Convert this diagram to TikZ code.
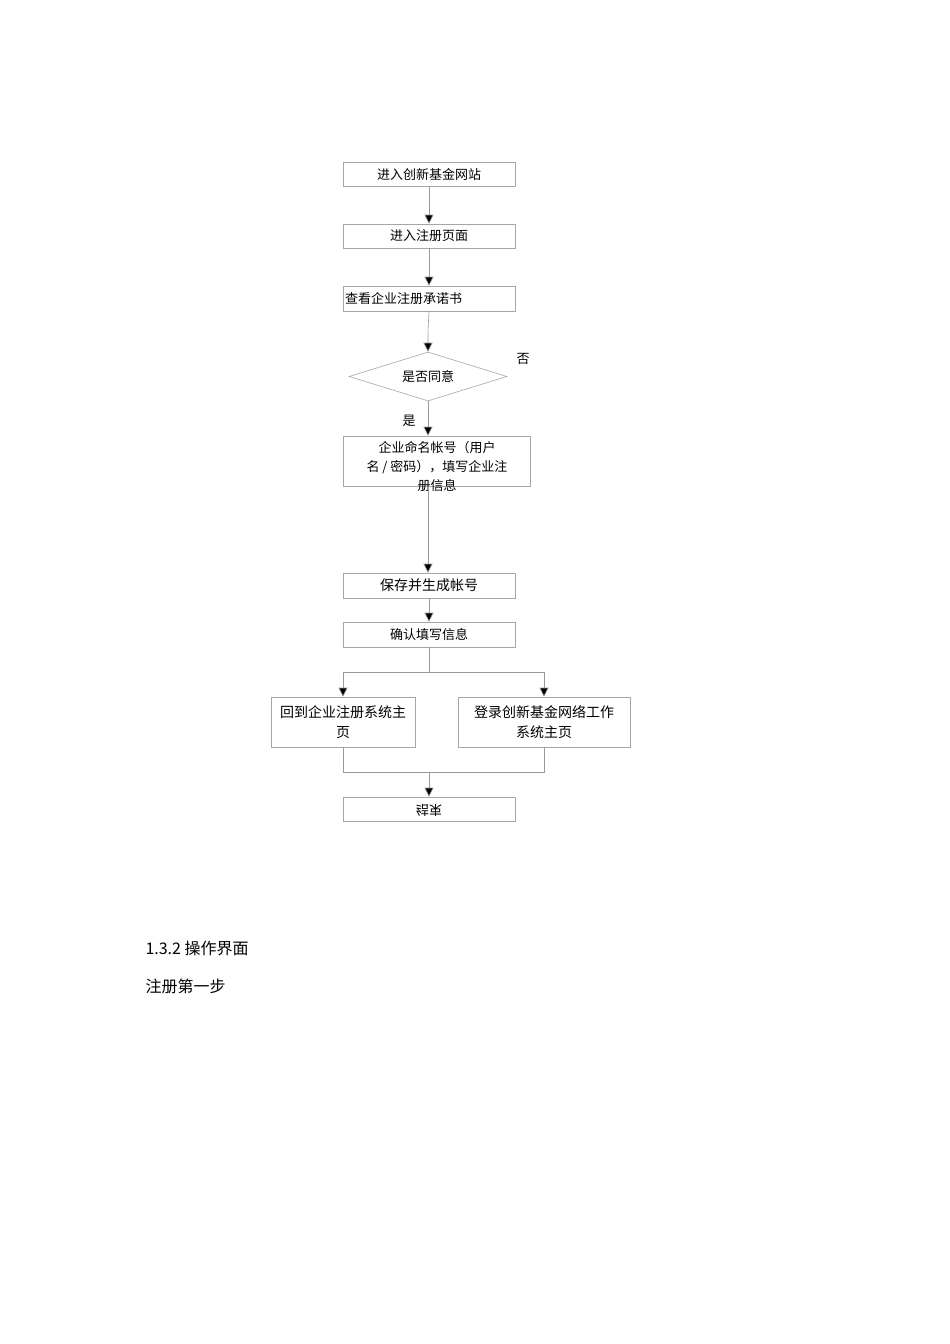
\documentclass[tikz,border=0pt]{standalone}
\usepackage{fontspec}
\setmainfont{Noto Sans CJK SC}
\usetikzlibrary{shapes.geometric,arrows.meta}
\begin{document}
\begin{tikzpicture}[x=1pt,y=-1pt,
 bx/.style={draw=black!35,line width=0.6pt,inner sep=0,font=\fontsize{13}{15}\selectfont},
 ar/.style={draw=black!40,line width=0.6pt,-{Triangle[length=9pt,width=9pt,fill=black]}},
 ln/.style={draw=black!40,line width=0.6pt}]
\path[use as bounding box,fill=white] (0,0) rectangle (950,1344);
\node[bx,minimum width=172pt,minimum height=24pt] (a) at (429,174) {进入创新基金网站};
\node[bx,minimum width=172pt,minimum height=24pt] (b) at (429,236) {进入注册页面};
\node[bx,minimum width=172pt,minimum height=25pt,text width=168pt,align=left] (c) at (429,298.5) {查看企业注册承诺书};
\node[bx,diamond,aspect=3.2,minimum width=158pt,minimum height=49pt] (d) at (428,376.5) {是否同意};
\node[font=\fontsize{13}{15}\selectfont] (no) at (523,359) {否};
\node[font=\fontsize{13}{15}\selectfont] (yes) at (409,421) {是};
\node[bx,minimum width=187pt,minimum height=50pt] (e) at (436.5,461) {};
\node[font=\fontsize{13}{19}\selectfont,align=center] (et) at (437,466) {企业命名帐号（用户\\名 / 密码），填写企业注\\册信息};
\node[bx,minimum width=172pt,minimum height=25pt,font=\fontsize{14}{16}\selectfont] (f) at (429,585.5) {保存并生成帐号};
\node[bx,minimum width=172pt,minimum height=25pt] (g) at (429,634.5) {确认填写信息};
\node[bx,minimum width=144pt,minimum height=50pt,align=center,font=\fontsize{14}{20}\selectfont] (h) at (343,722) {回到企业注册系统主\\页};
\node[bx,minimum width=172pt,minimum height=50pt,align=center,font=\fontsize{14}{20}\selectfont] (i) at (544,722) {登录创新基金网络工作\\系统主页};
\node[bx,minimum width=172pt,minimum height=24pt] (j) at (429,809) {};
\node[font=\fontsize{13}{15}\selectfont,yscale=-1] (jt) at (429,810) {结束};
\coordinate (s1) at (429,672);
\coordinate (s2) at (429,772);
\draw[ar] (a) -- (a.south |- b.north);
\draw[ar] (b) -- (b.south |- c.north);
\draw[ar] (c.south) .. controls (428,330) .. (d.north);
\draw[ar] (d.south) -- (d.south |- e.north);
\draw[ar] (e.south -| d.south) -- (f.north -| d.south);
\draw[ar] (f) -- (f.south |- g.north);
\draw[ln] (g.south) -- (s1);
\draw[ar] (s1) -| (h.north);
\draw[ar] (s1) -| (i.north);
\draw[ln] (h.south) |- (s2) -| (i.south);
\draw[ar] (s2) -- (j.north);
\node[anchor=west,font=\fontsize{16}{18}\selectfont] (t1) at (142,948) {1.3.2 操作界面};
\node[anchor=west,font=\fontsize{16}{18}\selectfont] (t2) at (142,986) {注册第一步};
\end{tikzpicture}
\end{document}
